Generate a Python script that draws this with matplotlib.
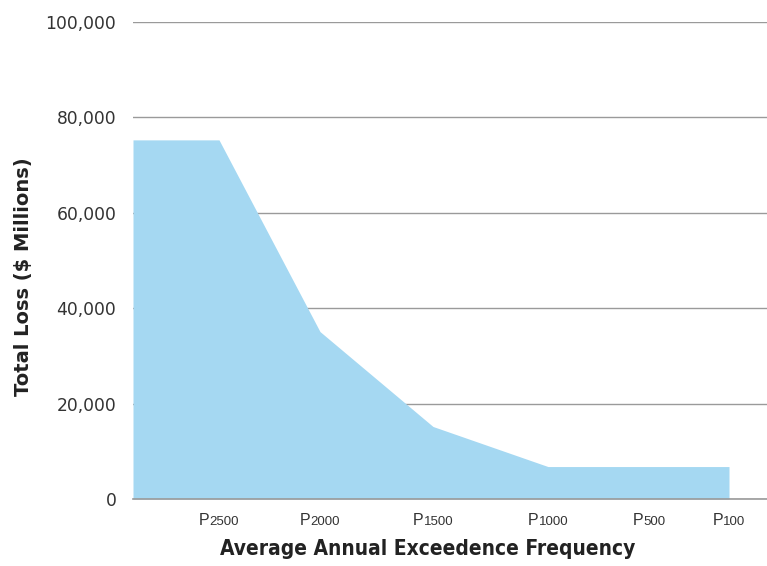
import matplotlib
matplotlib.use("Agg")
import matplotlib.pyplot as plt
import matplotlib.transforms as mtransforms
from matplotlib.ticker import FuncFormatter

# Loss exceedance curve
x_start = 0.0
x_end = 6.34
return_periods = ["2500", "2000", "1500", "1000", "500", "100"]
period_pos = [0.86, 1.87, 3.00, 4.15, 5.16, 5.96]
period_loss = [75300, 35100, 15200, 6800, 6800, 6800]

fill_color = "#A5D8F2"
text_color = "#333333"
grid_color = "#9a9a9a"

fig = plt.figure(figsize=(7.67, 5.66), dpi=100)
ax = fig.add_axes([0.1734, 0.1184, 0.8266, 0.8426])

xs = [x_start] + period_pos
ys = [period_loss[0]] + period_loss
ax.fill_between(xs, 0, ys, color=fill_color, linewidth=0, zorder=2)

ax.set_xlim(x_start, x_end)
ax.set_ylim(0, 100000)
ax.set_yticks(range(0, 100001, 20000))
ax.yaxis.set_major_formatter(FuncFormatter(lambda v, p: f"{int(v):,}"))
ax.grid(axis="y", color=grid_color, linewidth=1.0, zorder=1)
ax.set_axisbelow(True)
for s in ["top", "right", "left"]:
    ax.spines[s].set_visible(False)
ax.spines["bottom"].set_color(grid_color)
ax.spines["bottom"].set_linewidth(1.2)
ax.spines["bottom"].set_zorder(3)
ax.tick_params(axis="y", length=0, pad=12, labelsize=12.3, labelcolor=text_color)
ax.tick_params(axis="x", length=0)
ax.set_xticks([])
for lab in ax.get_yticklabels():
    lab.set_fontfamily("DejaVu Sans")

# Tick labels: "P" followed by a smaller return period on the same baseline
p_size = 11.5
d_size = 9.5
base = ax.get_xaxis_transform()
for pos, rp in zip(period_pos, return_periods):
    w_digits = 0.556 * d_size * len(rp)
    w_p = 0.667 * p_size
    total = w_p + w_digits
    t_p = mtransforms.offset_copy(base, fig=fig, x=-total / 2, y=-19, units="points")
    t_d = mtransforms.offset_copy(base, fig=fig, x=-total / 2 + w_p, y=-19, units="points")
    ax.text(pos, 0, "P", transform=t_p, ha="left", va="baseline",
            fontsize=p_size, color=text_color, family="Liberation Sans")
    ax.text(pos, 0, rp, transform=t_d, ha="left", va="baseline",
            fontsize=d_size, color=text_color, family="Liberation Sans")

fig.text(0.558, 0.012, "Average Annual Exceedence Frequency", ha="center", va="bottom",
         fontsize=15, fontweight="bold", fontstretch="condensed", color="#222222",
         family=["DejaVu Sans"])
fig.text(0.031, 0.512, "Total Loss ($ Millions)", ha="center", va="center", rotation=90,
         fontsize=14, fontweight="bold", color="#222222",
         family=["DejaVu Sans"])

fig.savefig("out.png", dpi=100)
